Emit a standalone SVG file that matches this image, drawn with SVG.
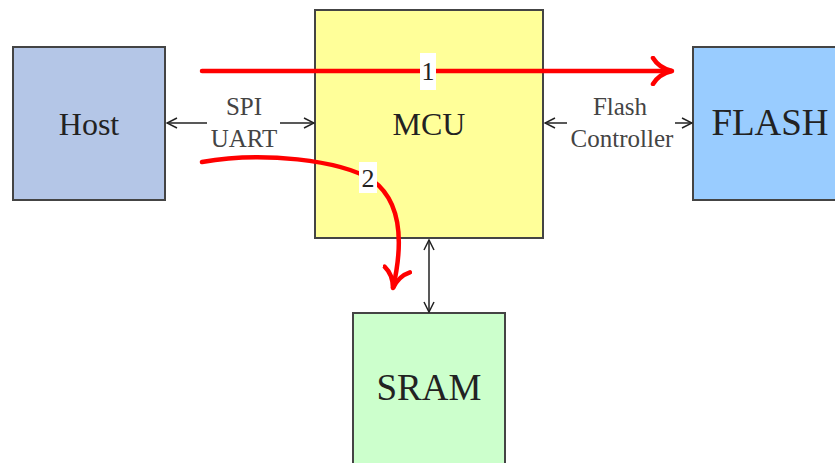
<svg xmlns="http://www.w3.org/2000/svg" width="835" height="463" viewBox="0 0 835 463">
<defs>
<style>
.box{stroke:#444;stroke-width:2}
.t{font-family:"Liberation Serif",serif;fill:#222;text-anchor:middle}
.lbl{font-family:"Liberation Serif",serif;fill:#444;text-anchor:middle;font-size:25px}
.conn{stroke:#222;stroke-width:1.5;fill:none}
.red{stroke:#ff0000;stroke-width:4.5;fill:none;stroke-linecap:round}
</style>
<marker id="ah" viewBox="0 0 12 12" refX="11" refY="6" markerWidth="12" markerHeight="12" markerUnits="userSpaceOnUse" orient="auto-start-reverse">
<path d="M1,1 L11,6 L1,11" fill="none" stroke="#222" stroke-width="1.5"/>
</marker>
<marker id="rh" viewBox="0 0 30 30" refX="27" refY="15" markerWidth="30" markerHeight="30" markerUnits="userSpaceOnUse" orient="auto">
<path d="M8,2 Q14,12 27,15 Q14,18 8,28" fill="none" stroke="#ff0000" stroke-width="4.5" stroke-linecap="round"/>
</marker>
</defs>
<rect width="835" height="463" fill="#fff"/>
<g id="host"><rect class="box" x="13" y="47" width="152" height="153" fill="#b4c6e7"/><text class="t" x="89" y="135" font-size="32">Host</text></g>
<g id="mcu"><rect class="box" x="315" y="10" width="228" height="228" fill="#ffff99"/><text class="t" x="429" y="135" font-size="32">MCU</text></g>
<g id="flash"><rect class="box" x="693" y="47" width="150" height="153" fill="#99ccff"/><text class="t" x="770" y="135" font-size="37">FLASH</text></g>
<g id="sram"><rect class="box" x="353" y="313" width="152" height="160" fill="#ccffcc"/><text class="t" x="429" y="400" font-size="37">SRAM</text></g>
<g id="connectors">
<line class="conn" x1="207" y1="123" x2="167" y2="123" marker-end="url(#ah)"/>
<line class="conn" x1="280" y1="123" x2="314" y2="123" marker-end="url(#ah)"/>
<text class="lbl" x="244" y="115">SPI</text>
<text class="lbl" x="244" y="147">UART</text>
<line class="conn" x1="567" y1="123" x2="545" y2="123" marker-end="url(#ah)"/>
<line class="conn" x1="675" y1="123" x2="692" y2="123" marker-end="url(#ah)"/>
<text class="lbl" x="620" y="115">Flash</text>
<text class="lbl" x="622" y="147">Controller</text>
<line class="conn" x1="429" y1="240" x2="429" y2="312" marker-start="url(#ah)" marker-end="url(#ah)"/>
<line class="red" x1="202" y1="71" x2="672" y2="71" marker-end="url(#rh)"/>
<rect x="420" y="53" width="16" height="37" fill="#fff"/>
<text class="t" x="428" y="80" font-size="26">1</text>
<path class="red" d="M202,162 C262,151 340,160 372,180 C400,200 404,240 393,288" marker-end="url(#rh)"/>
<rect x="359" y="162" width="18" height="31" fill="#fff"/>
<text class="t" x="368" y="187" font-size="26">2</text>
</g>
</svg>
